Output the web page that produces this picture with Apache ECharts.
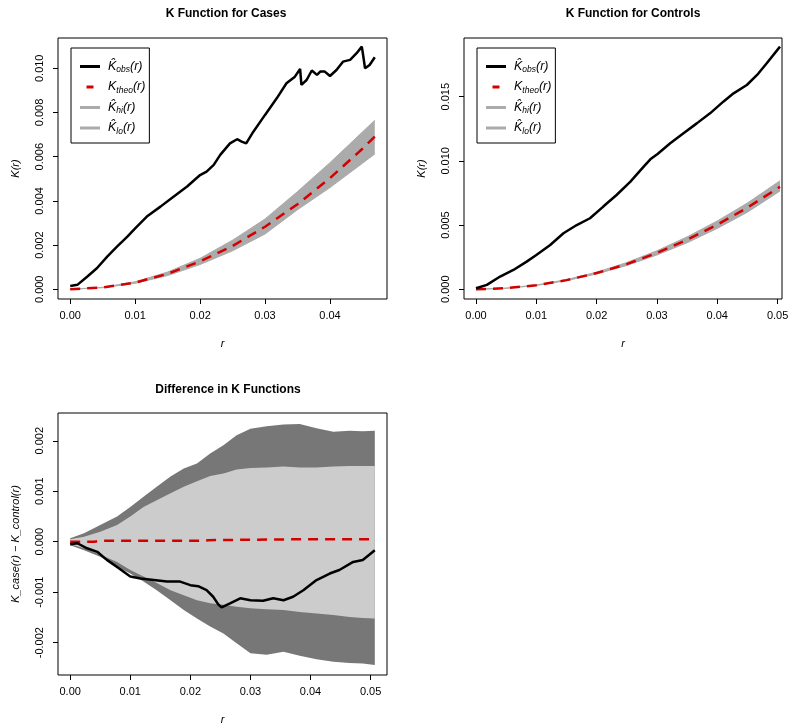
<!DOCTYPE html>
<html>
<head>
<meta charset="utf-8">
<script src="https://cdn.jsdelivr.net/npm/echarts@6/dist/echarts.min.js"></script>
<style>
  html, body { margin: 0; padding: 0; background: #fff; }
  #main { width: 800px; height: 728px; }
</style>
</head>
<body>
<div id="main"></div>
<script>
// ---- K function for cases ----
var casesR = [0, 0.0011, 0.0026, 0.0041, 0.0057, 0.0072, 0.0088, 0.0100, 0.0118, 0.0139, 0.0159, 0.0180, 0.0200, 0.0210,
  0.0221, 0.0231, 0.0246, 0.0257, 0.0264, 0.0271, 0.0282, 0.0300, 0.0318, 0.0333, 0.0346, 0.0354, 0.0356, 0.0364, 0.0372,
  0.0380, 0.0385, 0.0392, 0.0400, 0.0410, 0.0420, 0.0431, 0.0441, 0.0449, 0.0451, 0.0454, 0.0461, 0.0469]
var casesObs = [0.00015, 0.0002, 0.00057, 0.00095, 0.00148, 0.00193, 0.00238, 0.00276, 0.00329, 0.00374, 0.00419, 0.00465,
  0.00517, 0.00532, 0.00563, 0.00608, 0.0066, 0.00679, 0.00668, 0.0066, 0.00713, 0.00789, 0.00864, 0.00932, 0.00962, 0.00997,
  0.00925, 0.00947, 0.0099, 0.0097, 0.00985, 0.00985, 0.00965, 0.00992, 0.0103, 0.01038, 0.01068, 0.01098, 0.0106, 0.0100,
  0.01015, 0.0105]
var casesBandR = [0, 0.005, 0.01, 0.015, 0.02, 0.025, 0.03, 0.035, 0.04, 0.045, 0.0469]
var casesTheo = [0, 0.00008, 0.0003, 0.0007, 0.00126, 0.00196, 0.00283, 0.00385, 0.00503, 0.00636, 0.00691]
var casesHi = [0, 0.00009, 0.00034, 0.00078, 0.0014, 0.00222, 0.00318, 0.00442, 0.00573, 0.00712, 0.00765]
var casesLo = [0, 0.00007, 0.00027, 0.00062, 0.00112, 0.00174, 0.0025, 0.0036, 0.0046, 0.0057, 0.00612]
var casesXTicks = [0, 0.01, 0.02, 0.03, 0.04]
var casesYTicks = [0, 0.002, 0.004, 0.006, 0.008, 0.010]

// ---- K function for controls ----
var ctrlR = [0, 0.0018, 0.004, 0.0062, 0.0084, 0.01, 0.0123, 0.0145, 0.0167, 0.0189, 0.0211, 0.0233, 0.0256, 0.0278,
  0.0289, 0.0301, 0.0322, 0.0344, 0.0366, 0.0388, 0.041, 0.0427, 0.0449, 0.0466, 0.0482, 0.0504]
var ctrlObs = [0.00008, 0.00034, 0.00099, 0.0015, 0.00215, 0.00267, 0.00345, 0.00436, 0.005, 0.00553, 0.00644, 0.00734,
  0.00838, 0.00955, 0.01012, 0.01054, 0.01137, 0.01215, 0.01292, 0.0137, 0.01461, 0.01526, 0.01591, 0.01669, 0.0176, 0.0189]
var ctrlBandR = [0, 0.005, 0.01, 0.015, 0.02, 0.025, 0.03, 0.035, 0.04, 0.045, 0.0504]
var ctrlTheo = [0, 0.00008, 0.00031, 0.00071, 0.00126, 0.00196, 0.00283, 0.00385, 0.00503, 0.00636, 0.00798]
var ctrlHi = [0, 0.00009, 0.00033, 0.00075, 0.00133, 0.00208, 0.003, 0.00408, 0.00532, 0.00672, 0.00845]
var ctrlLo = [0, 0.00007, 0.00029, 0.00067, 0.00119, 0.00185, 0.00267, 0.00362, 0.00474, 0.006, 0.00765]
var ctrlXTicks = [0, 0.01, 0.02, 0.03, 0.04, 0.05]
var ctrlYTicks = [0, 0.005, 0.010, 0.015]

// ---- difference ----
var diffBandR = [0, 0.0023, 0.005, 0.0078, 0.01, 0.0122, 0.0144, 0.0167, 0.0189, 0.0211, 0.0233, 0.0255, 0.0277, 0.03,
  0.0327, 0.0355, 0.0382, 0.041, 0.0438, 0.0465, 0.0487, 0.0507]
var outerHi = [0.00007, 0.00017, 0.00033, 0.0005, 0.00069, 0.00089, 0.00109, 0.00129, 0.00145, 0.00155, 0.00175, 0.00191,
  0.00211, 0.00224, 0.00229, 0.00232, 0.00233, 0.00225, 0.00218, 0.0022, 0.00219, 0.0022]
var innerHi = [0.00005, 0.0001, 0.0002, 0.00033, 0.0005, 0.00069, 0.00082, 0.00096, 0.00109, 0.0012, 0.0013, 0.00135,
  0.00143, 0.00146, 0.00147, 0.00149, 0.00147, 0.00147, 0.00149, 0.0015, 0.0015, 0.0015]
var innerLo = [-0.00005, -0.00013, -0.00026, -0.0004, -0.00056, -0.00069, -0.00082, -0.00096, -0.00106, -0.00116, -0.00122,
  -0.00125, -0.00129, -0.00132, -0.00134, -0.00135, -0.00139, -0.00142, -0.00145, -0.00149, -0.00151, -0.00152]
var outerLo = [-0.00007, -0.00017, -0.0003, -0.0005, -0.00063, -0.00079, -0.00096, -0.00116, -0.00135, -0.00152, -0.00168,
  -0.00182, -0.00201, -0.00221, -0.00224, -0.00218, -0.00226, -0.00233, -0.00238, -0.0024, -0.00241, -0.00244]
var diffR = [0, 0.0012, 0.0028, 0.0045, 0.0061, 0.0078, 0.01, 0.0117, 0.0139, 0.0161, 0.0183, 0.02, 0.0213, 0.0227, 0.0238,
  0.0247, 0.0252, 0.0266, 0.0283, 0.03, 0.0321, 0.0338, 0.0355, 0.0371, 0.0388, 0.041, 0.0432, 0.0448, 0.0471, 0.0487, 0.0507]
var diffObs = [-0.00005, -0.00003, -0.00013, -0.0002, -0.00036, -0.0005, -0.00069, -0.00073, -0.00076, -0.00079, -0.00079,
  -0.00086, -0.00088, -0.00096, -0.00109, -0.00125, -0.0013, -0.00122, -0.00112, -0.00116, -0.00117, -0.00112, -0.00116,
  -0.00109, -0.00096, -0.00076, -0.00063, -0.00056, -0.0004, -0.00036, -0.00017]
var diffTheoR = [0, 0.004, 0.005, 0.022, 0.023, 0.03, 0.04, 0.05, 0.0507]
var diffTheo = [0, 0, 0.00002, 0.00002, 0.00003, 0.00004, 0.00005, 0.00005, 0.00004]
var diffXTicks = [0, 0.01, 0.02, 0.03, 0.04, 0.05]
var diffYTicks = [-0.002, -0.001, 0, 0.001, 0.002]

var FONT = '"Liberation Sans", Arial, sans-serif'
var RED = '#d40000'
var SHADE = '#ababab'

function zip(r, v) {
    return r.map(function (x, i) { return [x, v[i]] })
}

function band(idx, r, hi, lo, color) {
    return {
        type: 'custom',
        xAxisIndex: idx,
        yAxisIndex: idx,
        silent: true,
        data: [[r[0], lo[0]]],
        renderItem: function (params, api) {
            var pts = []
            for (var i = 0; i < r.length; i++) pts.push(api.coord([r[i], hi[i]]))
            for (var j = r.length - 1; j >= 0; j--) pts.push(api.coord([r[j], lo[j]]))
            return { type: 'polygon', shape: { points: pts }, style: { fill: color } }
        }
    }
}

function line(idx, name, r, v, color, width, dashed) {
    return {
        name: name,
        type: 'line',
        xAxisIndex: idx,
        yAxisIndex: idx,
        data: zip(r, v),
        showSymbol: false,
        symbol: 'none',
        silent: true,
        lineStyle: { color: color, width: width, type: dashed ? [10, 7] : 'solid', cap: 'butt' },
        itemStyle: { color: color }
    }
}

function xAxis(idx, min, max, ticks) {
    return {
        type: 'value', gridIndex: idx, min: min, max: max,
        name: 'r', nameLocation: 'middle', nameGap: 39,
        nameTextStyle: { fontFamily: FONT, fontSize: 11, fontStyle: 'italic', color: '#000' },
        axisLine: { show: false, onZero: false },
        splitLine: { show: false },
        axisTick: { show: true, length: 5, customValues: ticks, lineStyle: { color: '#000' } },
        axisLabel: {
            customValues: ticks, margin: 11, fontFamily: FONT, fontSize: 11, color: '#000',
            formatter: function (v) { return v.toFixed(2) }
        }
    }
}

function yAxis(idx, min, max, ticks, name, digits) {
    return {
        type: 'value', gridIndex: idx, min: min, max: max,
        name: name, nameLocation: 'middle', nameGap: 37, nameRotate: 90,
        nameTextStyle: { fontFamily: FONT, fontSize: 11, fontStyle: 'italic', color: '#000' },
        axisLine: { show: false, onZero: false },
        splitLine: { show: false },
        axisTick: { show: true, length: 5, customValues: ticks, lineStyle: { color: '#000' } },
        axisLabel: {
            customValues: ticks, rotate: 90, margin: 13, fontFamily: FONT, fontSize: 11, color: '#000',
            formatter: function (v) { return v.toFixed(digits) }
        }
    }
}

var legendText = {
    obs: '{k|K\u0302}{s|obs}{p|(r)}',
    theo: '{k|K}{s|theo}{p|(r)}',
    hi: '{k|K\u0302}{s|hi}{p|(r)}',
    lo: '{k|K\u0302}{s|lo}{p|(r)}'
}

function legend(left) {
    return {
        left: left, top: 48, orient: 'vertical',
        borderColor: '#000', borderWidth: 1, borderRadius: 0,
        padding: [12, 4, 7, 9], itemGap: 6, itemWidth: 20, itemHeight: 3,
        selectedMode: false,
        data: [
            { name: 'obs', icon: 'path://M0,0H20V3H0Z', itemStyle: { color: '#000', borderWidth: 0 } },
            { name: 'theo', icon: 'path://M0,0H7V3H0Z', itemStyle: { color: RED, borderWidth: 0 } },
            { name: 'hi', icon: 'path://M0,0H20V3H0Z', itemStyle: { color: SHADE, borderWidth: 0 } },
            { name: 'lo', icon: 'path://M0,0H20V3H0Z', itemStyle: { color: SHADE, borderWidth: 0 } }
        ],
        formatter: function (name) { return legendText[name] },
        textStyle: {
            rich: {
                k: { fontFamily: FONT, fontSize: 12.5, fontStyle: 'italic', color: '#000', lineHeight: 16, verticalAlign: 'middle', padding: [0, 0, 0, 3] },
                s: { fontFamily: FONT, fontSize: 8.5, fontStyle: 'italic', color: '#000', lineHeight: 8, verticalAlign: 'bottom' },
                p: { fontFamily: FONT, fontSize: 12.5, fontStyle: 'italic', color: '#000', lineHeight: 16, verticalAlign: 'middle' }
            }
        }
    }
}

function title(text, center, top) {
    return {
        text: text, left: center, top: top, textAlign: 'center',
        textStyle: { fontFamily: FONT, fontSize: 12, fontWeight: 'bold', color: '#000' }
    }
}

var chart = echarts.init(document.getElementById('main'), null, { renderer: 'canvas' })

var option = {
    backgroundColor: '#fff',
    animation: false,
    title: [
        title('K Function for Cases', 221, 3),
        title('K Function for Controls', 628, 3),
        title('Difference in K Functions', 223, 379)
    ],
    legend: [legend(71), legend(477)],
    grid: [
        { left: 58, top: 38, width: 329, height: 261, show: true, borderColor: '#000', borderWidth: 1, containLabel: false },
        { left: 464, top: 38, width: 318, height: 261, show: true, borderColor: '#000', borderWidth: 1, containLabel: false },
        { left: 58, top: 413, width: 329, height: 262, show: true, borderColor: '#000', borderWidth: 1, containLabel: false }
    ],
    xAxis: [
        xAxis(0, -0.00188, 0.04878, casesXTicks),
        xAxis(1, -0.00199, 0.05073, ctrlXTicks),
        xAxis(2, -0.00203, 0.05273, diffXTicks)
    ],
    yAxis: [
        yAxis(0, -0.00044, 0.01137, casesYTicks, 'K(r)', 3),
        yAxis(1, -0.00076, 0.01957, ctrlYTicks, 'K(r)', 3),
        yAxis(2, -0.00264, 0.00255, diffYTicks, 'K_case(r) \u2212 K_control(r)', 3)
    ],
    series: [
        band(0, casesBandR, casesHi, casesLo, SHADE),
        line(0, 'hi', casesBandR, casesHi, SHADE, 1, false),
        line(0, 'lo', casesBandR, casesLo, SHADE, 1, false),
        line(0, 'theo', casesBandR, casesTheo, RED, 2.5, true),
        line(0, 'obs', casesR, casesObs, '#000', 2.5, false),

        band(1, ctrlBandR, ctrlHi, ctrlLo, SHADE),
        line(1, 'hi', ctrlBandR, ctrlHi, SHADE, 1, false),
        line(1, 'lo', ctrlBandR, ctrlLo, SHADE, 1, false),
        line(1, 'theo', ctrlBandR, ctrlTheo, RED, 2.5, true),
        line(1, 'obs', ctrlR, ctrlObs, '#000', 2.5, false),

        band(2, diffBandR, outerHi, outerLo, '#777777'),
        band(2, diffBandR, innerHi, innerLo, '#cccccc'),
        line(2, 'diffTheo', diffTheoR, diffTheo, RED, 2.5, true),
        line(2, 'diffObs', diffR, diffObs, '#000', 2.5, false)
    ]
}

chart.setOption(option)
</script>
</body>
</html>
